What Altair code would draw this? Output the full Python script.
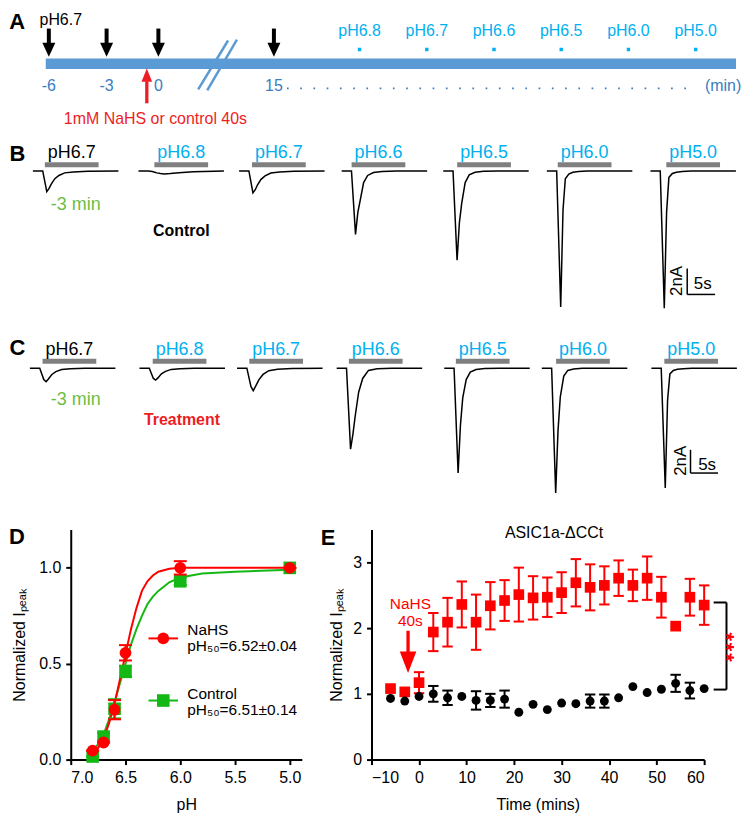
import altair as alt
import pandas as pd

FONT = "Liberation Sans, Arial, Helvetica, sans-serif"
RED = "#ff0000"
RED_TXT = "#ee1d23"
GREEN = "#14b814"
LBLUE = "#00b0f0"
BAR_BLUE = "#5b9bd5"
DBLUE = "#3b7dc0"
GRAY = "#7f7f7f"
LGREEN = "#6cbd45"

DOWN = "M-0.93,-1L0.93,-1L0,1Z"
UP = "M-0.8,1L0.8,1L0,-1Z"
UP_E = "M-0.77,-1L0.77,-1L0,1Z"
CAP = "M-1,0L1,0"

# ---------------- Panel A : protocol timeline (minutes)
a_arrow_min = [-6, -3, 0, 15]
a_tick_text = ["-6", "-3", "0", "15"]
a_test_min = [20, 25, 30, 35, 40, 45]
a_test_text = ["pH6.8", "pH6.7", "pH6.6", "pH6.5", "pH6.0", "pH5.0"]
a_treat_min = -0.67
a_line_start, a_line_end = -6.16, 48
a_break_x0 = [5.17, 6.34]
a_break_x1 = [9.05, 10.2]

# ---------------- Panels B / C : current traces (s, nA)
trace_labels = ["pH6.7", "pH6.8", "pH6.7", "pH6.6", "pH6.5", "pH6.0", "pH5.0"]
label_colors = ["black", LBLUE, LBLUE, LBLUE, LBLUE, LBLUE, LBLUE]
trace_time_s = [0, 1.7, 2.4, 2.8, 3.2, 3.8, 4.5, 5.5, 7.0, 9.5, 14.8]
bar_len_s = 9.3

b_trace_start = [0, 18.27, 35.69, 53.45, 71.03, 88.97, 106.9]
b_bar_start = [2.07, 21.03, 37.93, 55.17, 73.45, 90.86, 109.65]
b_current_nA = [
    [0, 0, -1.6, -1.35, -1.0, -0.6, -0.35, -0.15, -0.08, -0.03, 0],
    [0, 0, -0.05, -0.1, -0.15, -0.2, -0.23, -0.2, -0.14, -0.07, 0],
    [0, 0, -1.7, -1.45, -1.07, -0.65, -0.38, -0.16, -0.08, -0.03, 0],
    [0, 0, -4.9, -3.2, -2.3, -0.9, -0.35, -0.12, -0.04, 0, 0],
    [0, 0, -6.9, -4.0, -2.5, -0.9, -0.3, -0.1, -0.03, 0, 0],
    [0, 0, -10.5, -3.0, -0.6, -0.25, -0.1, -0.04, 0, 0, 0],
    [0, 0, -10.6, -3.2, -0.5, -0.2, -0.1, -0.04, 0, 0, 0],
]

c_trace_start = [-0.52, 18.45, 35.34, 52.59, 71.21, 88.1, 107.07]
c_bar_start = [1.67, 20.74, 37.46, 54.7, 73.22, 90.57, 109.31]
c_current_nA = [
    [0, 0, -1.0, -1.19, -0.95, -0.55, -0.3, -0.12, -0.05, -0.02, 0],
    [0, 0, -0.9, -1.04, -0.85, -0.5, -0.28, -0.11, -0.05, -0.02, 0],
    [0, 0, -1.6, -1.97, -1.6, -1.0, -0.55, -0.22, -0.09, -0.03, 0],
    [0, 0, -7.07, -5.8, -4.2, -2.1, -0.9, -0.2, -0.05, 0, 0],
    [0, 0, -9.16, -5.0, -2.6, -1.0, -0.35, -0.12, -0.04, 0, 0],
    [0, 0, -10.9, -5.5, -2.5, -0.7, -0.2, -0.08, 0, 0, 0],
    [0, 0, -10.46, -2.8, -0.5, -0.2, -0.1, -0.05, 0, 0, 0],
]

# ---------------- Panel D : pH dependence
d_ph = [6.8, 6.7, 6.6, 6.5, 6.0, 5.0]
d_nahs = [0.047, 0.089, 0.26, 0.557, 1.0, 1.0]
d_nahs_err = [0.0, 0.0, 0.05, 0.04, 0.035, 0.0]
d_ctrl = [0.016, 0.12, 0.265, 0.46, 0.93, 1.0]
d_ctrl_err = [0.0, 0.02, 0.05, 0.03, 0.02, 0.0]
d_fit_ph = [6.82, 6.75, 6.7, 6.65, 6.6, 6.55, 6.5, 6.45, 6.4, 6.35, 6.3, 6.25, 6.2, 6.1, 6.0, 5.8, 5.5, 5.0]
d_fit_nahs = [0.03, 0.06, 0.11, 0.19, 0.29, 0.42, 0.55, 0.68, 0.79, 0.88, 0.93, 0.96, 0.98, 0.995, 1.0, 1.0, 1.0, 1.0]
d_fit_ctrl = [0.03, 0.08, 0.13, 0.21, 0.30, 0.40, 0.50, 0.60, 0.68, 0.75, 0.81, 0.85, 0.88, 0.925, 0.95, 0.97, 0.98, 0.99]

# ---------------- Panel E : time course
e_time = [-6, -3, 0, 3, 6, 9, 12, 15, 18, 21, 24, 27, 30, 33, 36, 39, 42, 45, 48, 51, 54, 57, 60]
e_nahs = [1.08, 1.03, 1.17, 1.94, 2.09, 2.36, 2.09, 2.34, 2.42, 2.51, 2.46, 2.47, 2.54, 2.69,
          2.62, 2.65, 2.76, 2.65, 2.76, 2.47, 2.03, 2.47, 2.35]
e_nahs_err = [0, 0, 0.16, 0.29, 0.37, 0.35, 0.42, 0.36, 0.31, 0.41, 0.33, 0.30, 0.31, 0.36,
              0.35, 0.29, 0.27, 0.24, 0.33, 0.31, 0, 0.28, 0.30]
e_ctrl = [0.93, 0.89, 0.96, 1.00, 0.94, 0.96, 0.90, 0.90, 0.92, 0.72, 0.84, 0.76, 0.86, 0.85,
          0.89, 0.89, 0.94, 1.11, 1.02, 1.07, 1.16, 1.05, 1.08]
e_ctrl_err = [0, 0, 0, 0.12, 0.11, 0, 0.14, 0.10, 0.13, 0, 0, 0, 0, 0,
              0.10, 0.10, 0, 0, 0, 0, 0.13, 0.12, 0]


def txt(size=16, color="black", align="center", baseline="alphabetic", weight="normal", angle=0, **extra):
    kw = dict(font=FONT, fontSize=size, color=color, align=align, baseline=baseline, fontWeight=weight)
    if angle:
        kw["angle"] = angle
    kw.update(extra)
    return kw


LEFT = 62          # width of the left margin shared with panel D's axis
TOP_W = 734 - LEFT
A_H = 127

# ======================= Panel A
XA = alt.Scale(domain=[-6, -3, 0, 15, 20, 48], range=[v - LEFT for v in [40, 98, 150, 266, 352, 730]])
YA = alt.Scale(domain=[A_H, 0])


def xa(f):
    return alt.X(f, type="quantitative", scale=XA, axis=None)


def ya(f):
    return alt.Y(f, type="quantitative", scale=YA, axis=None)


a_layers = []
a_layers.append(
    alt.Chart(pd.DataFrame({"x": [a_line_start], "xe": [a_line_end], "y": [52.3]}))
    .mark_rule(color=BAR_BLUE, strokeWidth=10.5, strokeCap="butt")
    .encode(x=xa("x"), x2="xe:Q", y=ya("y"))
)
a_layers.append(
    alt.Chart(pd.DataFrame({"x": a_break_x0, "xe": a_break_x1, "y": [78, 79], "ye": [29, 28]}))
    .mark_rule(color=BAR_BLUE, strokeWidth=2.5)
    .encode(x=xa("x"), x2="xe:Q", y=ya("y"), y2="ye:Q")
)
arr = pd.DataFrame({"x": a_arrow_min, "y": [17] * 4, "ye": [33.7] * 4, "yh": [38.3] * 4, "t": a_tick_text,
                    "yt": [79.3] * 4})
a_layers.append(alt.Chart(arr).mark_rule(color="black", strokeWidth=4).encode(x=xa("x"), y=ya("y"), y2="ye:Q"))
a_layers.append(alt.Chart(arr).mark_point(shape=DOWN, size=196, filled=True, color="black", opacity=1,
                                          strokeOpacity=0).encode(x=xa("x"), y=ya("yh")))
a_layers.append(alt.Chart(arr).mark_text(**txt(16, DBLUE)).encode(x=xa("x"), y=ya("yt"), text="t:N"))
tests = pd.DataFrame({"x": a_test_min, "t": a_test_text, "yl": [24.3] * 6, "yd": [38] * 6})
a_layers.append(alt.Chart(tests).mark_square(size=12, color=LBLUE, opacity=1).encode(x=xa("x"), y=ya("yd")))
a_layers.append(alt.Chart(tests).mark_text(**txt(16, LBLUE)).encode(x=xa("x"), y=ya("yl"), text="t:N"))
a_layers.append(
    alt.Chart(pd.DataFrame({"x": [15.76], "xe": [44.44], "y": [77]}))
    .mark_rule(color=DBLUE, strokeWidth=1.7, strokeDash=[1.7, 11.6])
    .encode(x=xa("x"), x2="xe:Q", y=ya("y"))
)
a_layers.append(alt.Chart(pd.DataFrame({"x": [47.04], "y": [79.3], "t": ["(min)"]}))
                .mark_text(**txt(16, DBLUE)).encode(x=xa("x"), y=ya("y"), text="t:N"))
a_layers.append(alt.Chart(pd.DataFrame({"x": [-5.38], "y": [13.7], "t": ["pH6.7"]}))
                .mark_text(**txt(16)).encode(x=xa("x"), y=ya("y"), text="t:N"))
a_layers.append(alt.Chart(pd.DataFrame({"x": [a_treat_min], "y": [70], "ye": [92]}))
                .mark_rule(color=RED_TXT, strokeWidth=3.3).encode(x=xa("x"), y=ya("y"), y2="ye:Q"))
a_layers.append(alt.Chart(pd.DataFrame({"x": [a_treat_min], "y": [63.7]}))
                .mark_point(shape=UP, size=178, filled=True, color=RED_TXT, opacity=1, strokeOpacity=0)
                .encode(x=xa("x"), y=ya("y")))
a_layers.append(alt.Chart(pd.DataFrame({"x": [-0.17], "y": [112.7], "t": ["1mM NaHS or control 40s"]}))
                .mark_text(**txt(16, RED_TXT)).encode(x=xa("x"), y=ya("y"), text="t:N"))
a_layers.append(alt.Chart(pd.DataFrame({"x": [-8.05], "y": [17], "t": ["A"]}))
                .mark_text(**txt(22, align="left", weight="bold")).encode(x=xa("x"), y=ya("y"), text="t:N"))
panelA = alt.layer(*a_layers).properties(width=TOP_W, height=A_H)


# ======================= Panels B / C
def trace_panel(starts, bar_starts, currents, ydom, height, letter, letter_y, label_y, bar_y,
                green_y, cond, cond_color, cond_x, cond_y, sb_x, sb_x2, sb_y1, sb_y2, nA_xy, s_xy):
    XS = alt.Scale(domain=[-4.14 + LEFT / 5.8, 122.41], nice=False, zero=False)
    YS = alt.Scale(domain=ydom, nice=False, zero=False)

    def xs(f):
        return alt.X(f, type="quantitative", scale=XS, axis=None)

    def ys(f):
        return alt.Y(f, type="quantitative", scale=YS, axis=None)

    rows = []
    for k, (st, cur) in enumerate(zip(starts, currents)):
        for t, i in zip(trace_time_s, cur):
            rows.append({"s": st + t, "i": i, "k": k})
    tr = pd.DataFrame(rows)
    bars = pd.DataFrame({"x": bar_starts, "xe": [b + bar_len_s for b in bar_starts],
                         "xc": [b + bar_len_s / 2 for b in bar_starts], "y": [bar_y] * 7,
                         "yl": [label_y] * 7, "t": trace_labels, "c": label_colors})
    L = []
    L.append(alt.Chart(bars).mark_rule(color=GRAY, strokeWidth=5, strokeCap="butt")
             .encode(x=xs("x"), x2="xe:Q", y=ys("y")))
    L.append(alt.Chart(bars).mark_text(**txt(18)).encode(
        x=xs("xc"), y=ys("yl"), text="t:N", color=alt.Color("c:N", scale=None)))
    L.append(alt.Chart(tr).mark_line(color="black", strokeWidth=1.5)
             .encode(x=xs("s"), y=ys("i"), detail="k:N"))
    L.append(alt.Chart(pd.DataFrame({"x": [-4.05], "y": [letter_y], "t": [letter]}))
             .mark_text(**txt(22, align="left", weight="bold")).encode(x=xs("x"), y=ys("y"), text="t:N"))
    L.append(alt.Chart(pd.DataFrame({"x": [7.41], "y": [green_y], "t": ["-3 min"]}))
             .mark_text(**txt(18, LGREEN)).encode(x=xs("x"), y=ys("y"), text="t:N"))
    L.append(alt.Chart(pd.DataFrame({"x": [cond_x], "y": [cond_y], "t": [cond]}))
             .mark_text(**txt(16, cond_color, weight="bold")).encode(x=xs("x"), y=ys("y"), text="t:N"))
    sb = pd.DataFrame({"x": [sb_x, sb_x], "xe": [sb_x, sb_x2], "y": [sb_y1, sb_y2], "ye": [sb_y2, sb_y2]})
    L.append(alt.Chart(sb).mark_rule(color="black", strokeWidth=1.5)
             .encode(x=xs("x"), x2="xe:Q", y=ys("y"), y2="ye:Q"))
    L.append(alt.Chart(pd.DataFrame({"x": [nA_xy[0]], "y": [nA_xy[1]], "t": ["2nA"]}))
             .mark_text(**txt(17, baseline="middle", angle=270)).encode(x=xs("x"), y=ys("y"), text="t:N"))
    L.append(alt.Chart(pd.DataFrame({"x": [s_xy[0]], "y": [s_xy[1]], "t": ["5s"]}))
             .mark_text(**txt(17)).encode(x=xs("x"), y=ys("y"), text="t:N"))
    return alt.layer(*L).properties(width=TOP_W, height=height)


B_H, C_H = 179, 204
panelB = trace_panel(b_trace_start, b_bar_start, b_current_nA, [2.38 - B_H / 13.0, 2.38], B_H, "B", 0.79, 0.98,
                     0.48, -3.0, "Control", "black", 25.69, -5.0, 113.27, 118.1, -7.54, -9.54,
                     (111.46, -8.5), (115.95, -9.15))
panelC = trace_panel(c_trace_start, c_bar_start, c_current_nA, [4.17 - C_H / 11.5, 4.17], C_H, "C", 1.19, 1.19,
                     0.6, -3.22, "Treatment", RED_TXT, 25.8, -4.96, 113.84, 118.6, -7.13, -9.16,
                     (112.15, -8.09), (116.72, -8.87))

# ======================= Panel D
XD = alt.Scale(domain=[4.89, 7.0], reverse=True, nice=False, zero=False)
YD = alt.Scale(domain=[0, 1.2], nice=False, zero=False)
AXD_X = alt.Axis(values=[7.0, 6.5, 6.0, 5.5, 5.0], format=".1f", title="pH")
AXD_Y = alt.Axis(values=[0, 0.5, 1.0], format=".1f", title="Normalized Iₚₑₐₖ", titlePadding=11)


def xd(f):
    return alt.X(f, type="quantitative", scale=XD, axis=AXD_X)


def yd(f):
    return alt.Y(f, type="quantitative", scale=YD, axis=AXD_Y)


fit = pd.DataFrame({"ph": d_fit_ph, "n": d_fit_nahs, "c": d_fit_ctrl})
dpts = pd.DataFrame({"ph": d_ph, "n": d_nahs, "c": d_ctrl,
                     "nlo": [a - b for a, b in zip(d_nahs, d_nahs_err)],
                     "nhi": [a + b for a, b in zip(d_nahs, d_nahs_err)],
                     "clo": [a - b for a, b in zip(d_ctrl, d_ctrl_err)],
                     "chi": [a + b for a, b in zip(d_ctrl, d_ctrl_err)]})
D = []
D.append(alt.Chart(fit).mark_line(color=GREEN, strokeWidth=2).encode(x=xd("ph"), y=yd("c")))
D.append(alt.Chart(fit).mark_line(color=RED, strokeWidth=2).encode(x=xd("ph"), y=yd("n")))
for lo, hi, col, mid, shp, sz in [("clo", "chi", GREEN, "c", "square", 160), ("nlo", "nhi", RED, "n", "circle", 140)]:
    D.append(alt.Chart(dpts).mark_rule(color=col, strokeWidth=2).encode(x=xd("ph"), y=yd(lo), y2=f"{hi}:Q"))
    for f in (lo, hi):
        D.append(alt.Chart(dpts).mark_point(shape=CAP, size=169, color=col, strokeWidth=2, opacity=1)
                 .encode(x=xd("ph"), y=yd(f)))
    D.append(alt.Chart(dpts).mark_point(shape=shp, size=sz, filled=True, color=col, opacity=1)
             .encode(x=xd("ph"), y=yd(mid)))
leg = pd.DataFrame({"ph": [6.29, 6.29], "ph2": [6.02, 6.02], "v": [0.632, 0.308], "m": [6.155, 6.155]})
D.append(alt.Chart(leg.iloc[[0]]).mark_rule(color=RED, strokeWidth=2).encode(x=xd("ph"), x2="ph2:Q", y=yd("v")))
D.append(alt.Chart(leg.iloc[[1]]).mark_rule(color=GREEN, strokeWidth=2).encode(x=xd("ph"), x2="ph2:Q", y=yd("v")))
D.append(alt.Chart(leg.iloc[[0]]).mark_point(shape="circle", size=140, filled=True, color=RED, opacity=1)
         .encode(x=xd("m"), y=yd("v")))
D.append(alt.Chart(leg.iloc[[1]]).mark_point(shape="square", size=160, filled=True, color=GREEN, opacity=1)
         .encode(x=xd("m"), y=yd("v")))
legtxt = pd.DataFrame({"ph": [5.936] * 4, "v": [0.649, 0.568, 0.315, 0.234],
                       "t": ["NaHS", "pH₅₀=6.52±0.04", "Control", "pH₅₀=6.51±0.14"]})
D.append(alt.Chart(legtxt).mark_text(**txt(15.5, align="left")).encode(x=xd("ph"), y=yd("v"), text="t:N"))
D.append(alt.Chart(pd.DataFrame({"ph": [7.564], "v": [1.125], "t": ["D"]}))
         .mark_text(**txt(22, align="left", weight="bold")).encode(x=xd("ph"), y=yd("v"), text="t:N"))
panelD = alt.layer(*D).properties(width=232, height=231)

# ======================= Panel E
XE = alt.Scale(domain=[-10, 60], nice=False, zero=False)
YE = alt.Scale(domain=[0, 3.5], nice=False, zero=False)
AXE_X = alt.Axis(values=[-10, 0, 10, 20, 30, 40, 50, 60], format="d", title="Time (mins)")
AXE_Y = alt.Axis(values=[0, 1, 2, 3], format="d", title="Normalized Iₚₑₐₖ", titlePadding=8)


def xe(f):
    return alt.X(f, type="quantitative", scale=XE, axis=AXE_X)


def ye(f):
    return alt.Y(f, type="quantitative", scale=YE, axis=AXE_Y)


ed = pd.DataFrame({"t": e_time, "n": e_nahs, "c": e_ctrl,
                   "nlo": [a - b for a, b in zip(e_nahs, e_nahs_err)],
                   "nhi": [a + b for a, b in zip(e_nahs, e_nahs_err)],
                   "clo": [a - b for a, b in zip(e_ctrl, e_ctrl_err)],
                   "chi": [a + b for a, b in zip(e_ctrl, e_ctrl_err)],
                   "ne": e_nahs_err, "ce": e_ctrl_err})
E = []
for lo, hi, col, mid, shp, sz, errf in [("nlo", "nhi", RED, "n", "square", 115, "ne"),
                                        ("clo", "chi", "black", "c", "circle", 80, "ce")]:
    sub = ed[ed[errf] > 0]
    E.append(alt.Chart(sub).mark_rule(color=col, strokeWidth=2).encode(x=xe("t"), y=ye(lo), y2=f"{hi}:Q"))
    for f in (lo, hi):
        E.append(alt.Chart(sub).mark_point(shape=CAP, size=110, color=col, strokeWidth=2, opacity=1)
                 .encode(x=xe("t"), y=ye(f)))
    E.append(alt.Chart(ed).mark_point(shape=shp, size=sz, filled=True, color=col, opacity=1)
             .encode(x=xe("t"), y=ye(mid)))
E.append(alt.Chart(pd.DataFrame({"t": [-2.31], "v": [1.96], "ve": [1.6]}))
         .mark_rule(color=RED, strokeWidth=3.3).encode(x=xe("t"), y=ye("v"), y2="ve:Q"))
E.append(alt.Chart(pd.DataFrame({"t": [-2.31], "v": [1.48]}))
         .mark_point(shape=UP_E, size=467, filled=True, color=RED, opacity=1, strokeOpacity=0)
         .encode(x=xe("t"), y=ye("v")))
E.append(alt.Chart(pd.DataFrame({"t": [-1.82, -1.82], "v": [2.29, 2.03], "s": ["NaHS", "40s"]}))
         .mark_text(**txt(15.5, RED)).encode(x=xe("t"), y=ye("v"), text="s:N"))
brk = pd.DataFrame({"t": [62.0, 64.7, 62.0], "te": [64.7, 64.7, 64.7],
                    "v": [2.39, 2.39, 1.065], "ve": [2.39, 1.065, 1.065]})
E.append(alt.Chart(brk).mark_rule(color="black", strokeWidth=2).encode(x=xe("t"), x2="te:Q", y=ye("v"), y2="ve:Q"))
E.append(alt.Chart(pd.DataFrame({"t": [64.61], "v": [1.712], "s": ["*\u200a*\u200a*"]}))
         .mark_text(**txt(22, RED, weight="bold", baseline="middle", angle=90))
         .encode(x=xe("t"), y=ye("v"), text="s:N"))
E.append(alt.Chart(pd.DataFrame({"t": [28.4], "v": [3.364], "s": ["ASIC1a-ΔCCt"]}))
         .mark_text(**txt(16)).encode(x=xe("t"), y=ye("v"), text="s:N"))
E.append(alt.Chart(pd.DataFrame({"t": [-20.7], "v": [3.257], "s": ["E"]}))
         .mark_text(**txt(22, align="left", weight="bold")).encode(x=xe("t"), y=ye("v"), text="s:N"))
panelE = alt.layer(*E).properties(width=334, height=231)

row = alt.hconcat(panelD, panelE, spacing=17)
chart = (
    alt.vconcat(panelA, panelB, panelC, row, spacing=0)
    .properties(padding=0)
    .configure_view(stroke="transparent")
    .configure_axis(domainColor="black", domainWidth=2, tickColor="black", tickWidth=2, tickSize=5,
                    labelFont=FONT, labelFontSize=16, labelColor="black", labelPadding=5,
                    titleFont=FONT, titleFontSize=16, titleFontWeight="normal", titleColor="black",
                    titlePadding=11, grid=False)
)
chart.save("out.html", embed_options={"renderer": "svg", "actions": False})
